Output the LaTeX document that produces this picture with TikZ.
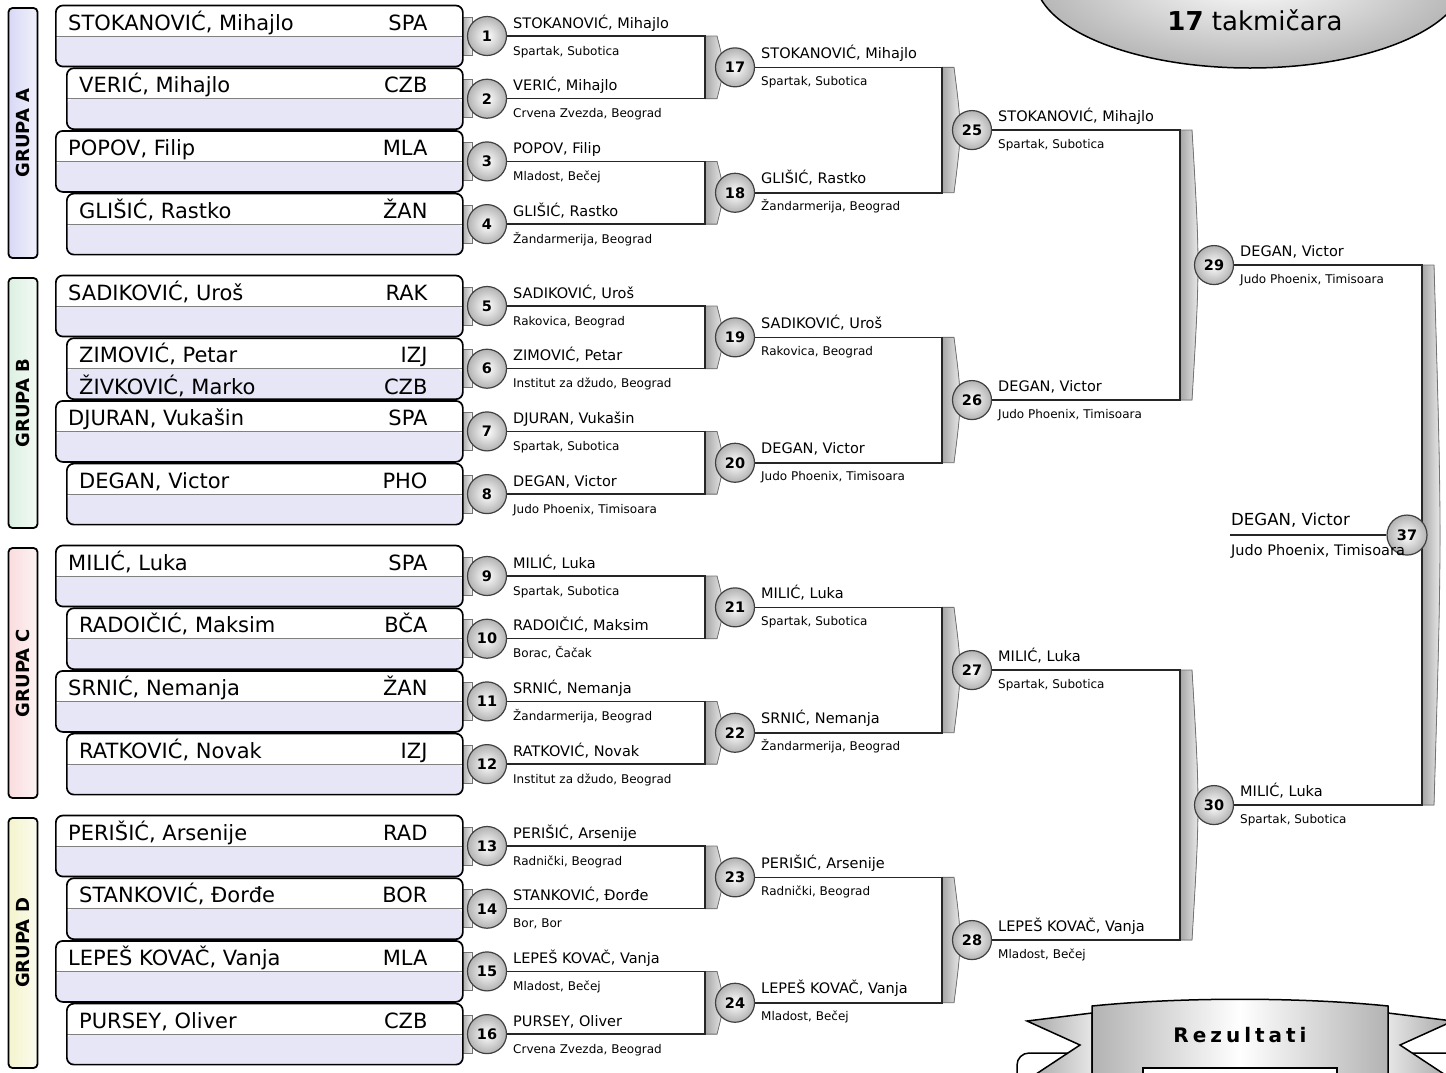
\documentclass[tikz,border=0pt]{standalone}
\usepackage{fontspec}
\setmainfont{DejaVu Sans}
\usetikzlibrary{backgrounds,positioning,calc,shadings}
\definecolor{lavanda}{RGB}{230,230,247}
\definecolor{grupaA}{RGB}{216,216,246}
\definecolor{grupaB}{RGB}{220,240,226}
\definecolor{grupaC}{RGB}{250,220,222}
\definecolor{grupaD}{RGB}{244,244,206}
\newcommand{\vel}[1]{\fontsize{#1}{#1}\selectfont}

\begin{document}
\begin{tikzpicture}[x=1pt,y=-1pt,
  kutija/.style={draw, rounded corners=7pt, line width=1.7pt, fill=white, inner sep=0pt, minimum height=61pt,
    path picture={\fill[lavanda] (path picture bounding box.west) rectangle (path picture bounding box.south east);
      \draw[black!50, line width=0.8pt] (path picture bounding box.west) -- (path picture bounding box.east);}},
  igrac/.style={inner sep=0pt, font=\vel{21}},
  grupa/.style={draw, line width=1.8pt, rounded corners=4pt, minimum width=29pt, minimum height=250pt, inner sep=0pt},
  borba/.style={circle, draw=black!75, line width=1.2pt, minimum size=39pt, inner sep=0pt,
    inner color=white, outer color=black!30, font=\bfseries\vel{14.5}},
  pobednik/.style={anchor=base west, inner sep=0pt, font=\vel{14.5}},
  klub/.style={anchor=base west, inner sep=0pt, font=\vel{12}},
  veza/.style={line width=1.5pt, black!85},
  traka/.style={draw=black!55, line width=0.8pt, left color=black!35, right color=black!6},
]
\useasboundingbox (0,0) rectangle (1446,1072);
\clip (0,0) rectangle (1446,1072);

\foreach \g/\s/\boja in {0/A/grupaA, 1/B/grupaB, 2/C/grupaC, 3/D/grupaD}{
  \node[grupa, left color=\boja, right color=\boja!35] (g\s) at (23,133+270*\g) {};
  \node[rotate=90, font=\bfseries\vel{18}] (t\s) at (g\s) {GRUPA \s};
}

% prvo kolo
\foreach \k/\igr/\kod/\klub in {
  1/{STOKANOVIĆ, Mihajlo}/SPA/{Spartak, Subotica},
  2/{VERIĆ, Mihajlo}/CZB/{Crvena Zvezda, Beograd},
  3/{POPOV, Filip}/MLA/{Mladost, Bečej},
  4/{GLIŠIĆ, Rastko}/ŽAN/{Žandarmerija, Beograd},
  5/{SADIKOVIĆ, Uroš}/RAK/{Rakovica, Beograd},
  6/{ZIMOVIĆ, Petar}/IZJ/{Institut za džudo, Beograd},
  7/{DJURAN, Vukašin}/SPA/{Spartak, Subotica},
  8/{DEGAN, Victor}/PHO/{Judo Phoenix, Timisoara},
  9/{MILIĆ, Luka}/SPA/{Spartak, Subotica},
  10/{RADOIČIĆ, Maksim}/BČA/{Borac, Čačak},
  11/{SRNIĆ, Nemanja}/ŽAN/{Žandarmerija, Beograd},
  12/{RATKOVIĆ, Novak}/IZJ/{Institut za džudo, Beograd},
  13/{PERIŠIĆ, Arsenije}/RAD/{Radnički, Beograd},
  14/{STANKOVIĆ, Đorđe}/BOR/{Bor, Bor},
  15/{LEPEŠ KOVAČ, Vanja}/MLA/{Mladost, Bečej},
  16/{PURSEY, Oliver}/CZB/{Crvena Zvezda, Beograd}}{
  \pgfmathsetmacro{\y}{36+270*floor((\k-1)/4)+62.7*mod(\k-1,4)}
  \pgfmathsetmacro{\xl}{isodd(\k) ? 55 : 66}
  \pgfmathsetmacro{\w}{462-\xl}
  \node[kutija, minimum width=\w pt, anchor=west] (k\k) at (\xl,\y) {};
  \node[igrac, anchor=base west] (ime\k) at ([shift={(13,-6)}]k\k.west) {\igr};
  \node[igrac, anchor=base east] (kod\k) at ([shift={(-36,-6)}]k\k.east) {\kod};
  \node[borba] (b\k) at (487,\y) {\k};
  \node[pobednik] (p\k) at ([shift={(26,-8)}]b\k.center) {\igr};
  \node[klub] (c\k) at ([shift={(26,19)}]b\k.center) {\klub};
}
\node[igrac, anchor=base west] (ime6b) at ([shift={(13,26)}]k6.west) {ŽIVKOVIĆ, Marko};
\node[igrac, anchor=base east] (kod6b) at ([shift={(-36,26)}]k6.east) {CZB};

\foreach \n/\x/\y/\igr/\klub in {
  17/735/67.35/{STOKANOVIĆ, Mihajlo}/{Spartak, Subotica},
  18/735/192.75/{GLIŠIĆ, Rastko}/{Žandarmerija, Beograd},
  19/735/337.35/{SADIKOVIĆ, Uroš}/{Rakovica, Beograd},
  20/735/462.75/{DEGAN, Victor}/{Judo Phoenix, Timisoara},
  21/735/607.35/{MILIĆ, Luka}/{Spartak, Subotica},
  22/735/732.75/{SRNIĆ, Nemanja}/{Žandarmerija, Beograd},
  23/735/877.35/{PERIŠIĆ, Arsenije}/{Radnički, Beograd},
  24/735/1002.75/{LEPEŠ KOVAČ, Vanja}/{Mladost, Bečej},
  25/972/130.05/{STOKANOVIĆ, Mihajlo}/{Spartak, Subotica},
  26/972/400.05/{DEGAN, Victor}/{Judo Phoenix, Timisoara},
  27/972/670.05/{MILIĆ, Luka}/{Spartak, Subotica},
  28/972/940.05/{LEPEŠ KOVAČ, Vanja}/{Mladost, Bečej},
  29/1214/265.05/{DEGAN, Victor}/{Judo Phoenix, Timisoara},
  30/1214/805.05/{MILIĆ, Luka}/{Spartak, Subotica}}{
  \node[borba] (b\n) at (\x,\y) {\n};
  \node[pobednik] (p\n) at ([shift={(26,-9)}]b\n.center) {\igr};
  \node[klub] (c\n) at ([shift={(26,18)}]b\n.center) {\klub};
}
\node[borba, minimum size=40pt] (b37) at (1407,535.05) {37};
\coordinate (kraj) at ([xshift=-177pt]b37.center);
\node[pobednik, font=\vel{16.6}] (p37) at ([shift={(-176,-10)}]b37.center) {DEGAN, Victor};
\node[klub, font=\vel{14.5}] (c37) at ([shift={(-176,20)}]b37.center) {Judo Phoenix, Timisoara};

\begin{scope}[on background layer]
  \foreach \k in {1,...,16}
    \filldraw[traka] ([shift={(-25,-19)}]b\k.center) rectangle ([shift={(-15,19)}]b\k.center);
  \foreach \a/\b/\c/\xj in {1/2/17/705, 3/4/18/705, 5/6/19/705, 7/8/20/705, 9/10/21/705, 11/12/22/705,
      13/14/23/705, 15/16/24/705, 17/18/25/942, 19/20/26/942, 21/22/27/942, 23/24/28/942,
      25/26/29/1180, 27/28/30/1180, 29/30/37/1422}{
    \coordinate (s\c) at (\xj,0);
    \filldraw[traka] (b\a -| s\c) -- ($(b\a -| s\c)+(12,0)$) .. controls ($(b\c -| s\c)+(20,0)$) .. ($(b\b -| s\c)+(12,0)$) -- (b\b -| s\c) -- cycle;
    \draw[veza] (b\a) -- (b\a -| s\c) -- (b\b -| s\c) -- (b\b);
  }
  \draw[veza] (b37) -- (kraj);
\end{scope}

\filldraw[line width=1.5pt, inner color=white, outer color=black!28] (1250,-22) ellipse (215 and 90);
\node[font=\vel{26}, anchor=base] (naslov) at (1255,30) {\textbf{17} takmičara};

\draw[line width=1.5pt, fill=white, rounded corners=12pt] (1017,1053) rectangle (1463,1140);
\filldraw[line width=1.5pt, left color=black!35, right color=black!10] (1092,1013) -- (1027,1021) -- (1080,1045) -- (1027,1080) -- (1092,1080) -- cycle;
\filldraw[line width=1.5pt, left color=black!10, right color=black!35] (1388,1013) -- (1453,1021) -- (1400,1045) -- (1453,1080) -- (1388,1080) -- cycle;
\filldraw[line width=1.5pt, left color=black!30, right color=black!30, middle color=white] (1092,1006) .. controls (1180,997) and (1300,997) .. (1388,1006) -- (1388,1090) -- (1092,1090) -- cycle;
\draw[line width=1.5pt, fill=white] (1143,1068) rectangle (1337,1120);
\node[font=\bfseries\vel{20}] (rezultati) at (1240,1035) {R\kern4pt e\kern4pt z\kern4pt u\kern4pt l\kern4pt t\kern4pt a\kern4pt t\kern4pt i};
\end{tikzpicture}
\end{document}
